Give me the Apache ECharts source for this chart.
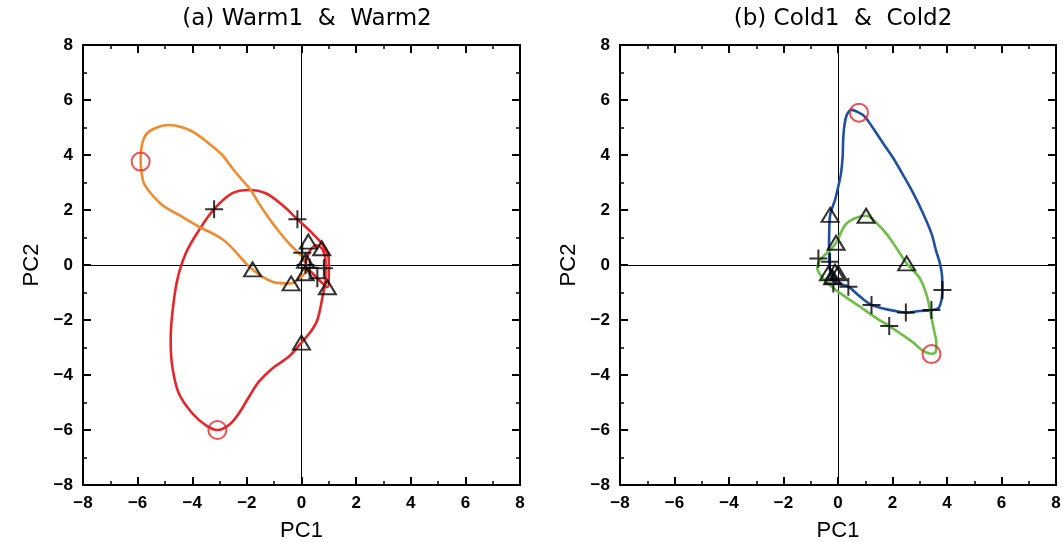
<!DOCTYPE html>
<html>
<head>
<meta charset="utf-8">
<script src="https://cdn.jsdelivr.net/npm/echarts@6/dist/echarts.min.js"></script>
<style>html,body{margin:0;padding:0;background:#fff}#main{width:1063px;height:542px}</style>
</head>
<body>
<div id="main"></div>
<script>
// panel titles and axis names
var titles = ['(a) Warm1  &  Warm2', '(b) Cold1  &  Cold2']
var axisTicks = [-8, -6, -4, -2, 0, 2, 4, 6, 8]

// (a) Warm1 trajectory (red)
var warm1Curve = [
  [0.15, 0.05], [0.3, 0.5], [0.55, 0.72], [0.78, 0.55], [0.88, 0.1], [0.88, -0.5],
  [0.78, -1.1], [0.58, -2.0], [0.34, -2.42], [0.0, -2.82], [-0.46, -3.33], [-1.07, -3.76],
  [-1.56, -4.24], [-1.92, -4.79], [-2.29, -5.39], [-2.66, -5.82], [-3.08, -6.0], [-3.51, -5.82],
  [-4.0, -5.39], [-4.49, -4.67], [-4.73, -3.7], [-4.79, -2.73], [-4.73, -1.76], [-4.55, -0.55],
  [-4.24, 0.42], [-3.75, 1.27], [-3.2, 2.03], [-2.53, 2.61], [-1.92, 2.73], [-1.31, 2.61],
  [-0.7, 2.18], [-0.15, 1.66], [0.4, 1.15], [0.8, 0.7], [1.0, 0.2], [1.0, -0.35],
  [0.95, -0.81], [0.7, -0.6], [0.4, -0.3], [0.2, -0.1]
]
// (a) Warm2 trajectory (orange)
var warm2Curve = [
  [0.15, -0.1], [0.15, -0.24], [-0.09, -0.48], [-0.38, -0.67], [-0.95, -0.64], [-1.44, -0.42],
  [-1.79, -0.16], [-2.04, 0.06], [-2.41, 0.48], [-2.78, 0.85], [-3.14, 1.09], [-3.75, 1.39],
  [-4.49, 1.82], [-5.1, 2.18], [-5.52, 2.61], [-5.77, 2.97], [-5.85, 3.33], [-5.89, 3.76],
  [-5.87, 4.18], [-5.77, 4.61], [-5.59, 4.85], [-5.22, 5.03], [-4.88, 5.09], [-4.37, 5.01],
  [-3.88, 4.79], [-3.39, 4.42], [-2.9, 4.0], [-2.53, 3.52], [-2.17, 3.09], [-1.86, 2.73],
  [-1.56, 2.24], [-1.19, 1.7], [-0.82, 1.21], [-0.46, 0.79], [-0.15, 0.48], [0.03, 0.3], [0.1, 0.1]
]
var warmTriangles = [[-1.79, -0.16], [-0.38, -0.67], [0.0, -2.82], [0.25, 0.85], [0.74, 0.61], [0.95, -0.81], [0.13, -0.3], [0.15, 0.15]]
var warmPlus = [[-3.2, 2.03], [-0.15, 1.66], [0.03, 0.45], [0.82, -0.12], [0.58, -0.48], [0.3, -0.1], [0.15, 0.0]]
var warmCircles = [[-5.89, 3.76], [-3.08, -6.0]]

// (b) Cold1 trajectory (blue)
var cold1Curve = [
  [0.77, 5.54], [0.5, 5.64], [0.32, 5.45], [0.23, 5.03], [0.19, 4.55], [0.17, 3.94],
  [0.11, 3.33], [0.01, 2.85], [-0.11, 2.36], [-0.29, 1.82], [-0.32, 1.27], [-0.33, 0.67],
  [-0.32, 0.18], [-0.29, -0.24], [-0.17, -0.55], [0.07, -0.69], [0.38, -0.79], [0.81, -1.15],
  [1.23, -1.45], [1.66, -1.58], [2.03, -1.66], [2.49, -1.73], [3.0, -1.67], [3.43, -1.64],
  [3.71, -1.54], [3.83, -0.91], [3.82, -0.42], [3.74, 0.06], [3.59, 0.55], [3.43, 1.15],
  [3.12, 1.88], [2.76, 2.61], [2.39, 3.27], [2.03, 3.88], [1.66, 4.42], [1.29, 4.97],
  [0.99, 5.39], [0.77, 5.54]
]
// (b) Cold2 trajectory (green)
var cold2Curve = [
  [3.43, -3.24], [3.59, -3.15], [3.61, -2.85], [3.52, -2.36], [3.4, -1.76], [3.25, -1.09],
  [3.0, -0.48], [2.52, 0.06], [2.15, 0.61], [1.78, 1.13], [1.42, 1.52], [1.03, 1.79],
  [0.62, 1.7], [0.26, 1.45], [-0.07, 0.81], [-0.36, 0.48], [-0.66, 0.18], [-0.76, -0.12],
  [-0.6, -0.42], [-0.23, -0.79], [0.26, -1.15], [0.81, -1.52], [1.42, -1.94], [1.88, -2.22],
  [2.33, -2.52], [2.76, -2.82], [3.12, -3.12], [3.43, -3.24]
]
var coldTriangles = [[-0.29, 1.82], [1.03, 1.79], [-0.07, 0.81], [2.52, 0.06], [-0.35, -0.3], [-0.11, -0.24], [0.01, -0.3], [-0.2, -0.45]]
var coldPlus = [[-0.72, 0.24], [-0.29, 0.12], [-0.17, -0.67], [0.38, -0.79], [1.23, -1.45], [2.49, -1.73], [3.43, -1.64], [3.83, -0.91], [1.88, -2.22]]
var coldCircles = [[0.77, 5.54], [3.43, -3.24]]

var FONT = 'Liberation Sans'
var main = document.getElementById('main')
var myChart = echarts.init(main, null, { renderer: 'canvas' })

function fmt (v) {
  return String(v).replace('-', '\u2212')
}

function axis (gridIndex, pos, name, labels) {
  var isX = pos === 'bottom' || pos === 'top'
  var a = {
    type: 'value',
    gridIndex: gridIndex,
    position: pos,
    min: axisTicks[0],
    max: axisTicks[axisTicks.length - 1],
    interval: 2,
    axisLine: { show: true, onZero: false, lineStyle: { color: '#000', width: 2 } },
    axisTick: { show: true, inside: true, length: 8, lineStyle: { color: '#000', width: 2 } },
    minorTick: { show: true, splitNumber: 2, length: 4, lineStyle: { color: '#000', width: 1.5 } },
    splitLine: { show: false },
    axisLabel: {
      show: labels,
      formatter: fmt,
      color: '#000',
      fontFamily: FONT,
      fontWeight: 'bold',
      fontSize: 17,
      margin: 10
    }
  }
  if (name) {
    a.name = name
    a.nameLocation = 'middle'
    a.nameGap = isX ? 35 : 40
    a.nameTextStyle = { color: '#000', fontFamily: FONT, fontSize: 22 }
  }
  return a
}

var plusPath = 'path://M10,0 L10,20 M0,10 L20,10'

function panelSeries (idx, curves, colors, tri, plus, circ) {
  var list = []
  curves.forEach(function (c, i) {
    var s = {
      type: 'line',
      xAxisIndex: idx * 2,
      yAxisIndex: idx * 2,
      data: c,
      smooth: 0.35,
      showSymbol: false,
      symbol: 'none',
      lineStyle: { color: colors[i], width: 2.6 },
      z: 3
    }
    if (i === 0) {
      s.markLine = {
        silent: true,
        symbol: 'none',
        label: { show: false },
        lineStyle: { color: '#000', width: 1, type: 'solid' },
        data: [{ xAxis: 0 }, { yAxis: 0 }],
        z: 1
      }
    }
    list.push(s)
  })
  list.push({
    type: 'scatter', xAxisIndex: idx * 2, yAxisIndex: idx * 2, data: tri,
    symbol: 'triangle', symbolSize: [17, 14], z: 5,
    itemStyle: { color: 'rgba(0,0,0,0)', borderColor: '#000', borderWidth: 2 }
  })
  list.push({
    type: 'scatter', xAxisIndex: idx * 2, yAxisIndex: idx * 2, data: plus,
    symbol: plusPath, symbolSize: 18, z: 5,
    itemStyle: { color: 'rgba(0,0,0,0)', borderColor: '#000', borderWidth: 2 }
  })
  list.push({
    type: 'scatter', xAxisIndex: idx * 2, yAxisIndex: idx * 2, data: circ,
    symbol: 'circle', symbolSize: 18, z: 5,
    itemStyle: { color: 'rgba(0,0,0,0)', borderColor: '#e8262a', borderWidth: 2 }
  })
  return list
}

var titleStyle = { fontFamily: 'DejaVu Sans', fontSize: 23, fontWeight: 'normal', color: '#000' }

myChart.setOption({
  animation: false,
  backgroundColor: '#fff',
  title: [
    { text: titles[0], left: 302, top: 3, textAlign: 'center', textStyle: titleStyle },
    { text: titles[1], left: 838, top: 3, textAlign: 'center', textStyle: titleStyle }
  ],
  grid: [
    { left: 83, top: 45, width: 437, height: 440, outerBoundsMode: 'none' },
    { left: 620, top: 45, width: 436, height: 440, outerBoundsMode: 'none' }
  ],
  xAxis: [
    axis(0, 'bottom', 'PC1', true), axis(0, 'top', null, false),
    axis(1, 'bottom', 'PC1', true), axis(1, 'top', null, false)
  ],
  yAxis: [
    axis(0, 'left', 'PC2', true), axis(0, 'right', null, false),
    axis(1, 'left', 'PC2', true), axis(1, 'right', null, false)
  ],
  series: [].concat(
    panelSeries(0, [warm1Curve, warm2Curve], ['#e8262a', '#f28a2e'], warmTriangles, warmPlus, warmCircles),
    panelSeries(1, [cold1Curve, cold2Curve], ['#1f4fa0', '#6dbf45'], coldTriangles, coldPlus, coldCircles)
  )
})
</script>
</body>
</html>
